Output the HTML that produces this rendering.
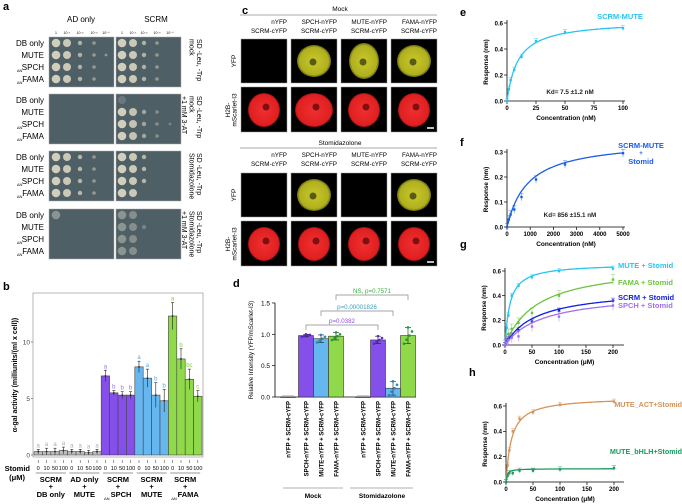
<!DOCTYPE html>
<html><head><meta charset="utf-8"><style>
html,body{margin:0;padding:0;background:#fff;}
svg{display:block;font-family:"Liberation Sans",Arial,sans-serif;}
</style></head><body>
<svg id="fig" width="682" height="504" viewBox="0 0 682 504" xmlns="http://www.w3.org/2000/svg">
<defs>
<radialGradient id="gy"><stop offset="0" stop-color="#c8c828"/><stop offset="0.85" stop-color="#b0b020"/><stop offset="1" stop-color="#6a6a10"/></radialGradient>
<radialGradient id="gr"><stop offset="0" stop-color="#f03030"/><stop offset="0.9" stop-color="#e02020"/><stop offset="1" stop-color="#901010"/></radialGradient>
</defs>
<g id="pa"></g>
<g id="pc"></g>
<g id="pb"></g>
<g id="pd"></g>
<g id="pe"></g>
</svg>
<script>
// ---------- data ----------
const bGroups = ["SCRM+DB only","AD only+MUTE","SCRM+ΔNSPCH","SCRM+MUTE","SCRM+ΔNFAMA"];
const bDoses = ["0","10","50","100"];
const bValues = [0.3,0.3,0.3,0.4, 0.3,0.3,0.2,0.3, 7.0,5.5,5.3,5.3, 7.8,6.8,5.3,4.8, 12.3,8.5,6.7,5.2];
const bErrors = [0.2,0.3,0.3,0.3, 0.2,0.2,0.2,0.2, 0.5,0.2,0.3,0.3, 0.5,0.8,1.1,1.0, 1.2,0.9,0.9,0.5];
const bLetters = ["a","a","a","a","a","a","a","a","a","b","b","b","a","a","b","b","a","b","bc","c"];
const dCats = ["nYFP + SCRM-cYFP","SPCH-nYFP + SCRM-cYFP","MUTE-nYFP + SCRM-cYFP","FAMA-nYFP + SCRM-cYFP","nYFP + SCRM-cYFP","SPCH-nYFP + SCRM-cYFP","MUTE-nYFP + SCRM-cYFP","FAMA-nYFP + SCRM-cYFP"];
const dValues = [0,0.98,0.93,0.97,0,0.91,0.14,0.98];
const dErrors = [0,0.02,0.06,0.06,0,0.06,0.11,0.13];
const eX = [0,1.56,3.13,6.25,12.5,25,50,100];
const eY = [0,0.09,0.16,0.24,0.34,0.46,0.53,0.56];
const fX = [0,78,156,313,625,1250,2500,5000];
const fY = [0,0.03,0.05,0.07,0.12,0.19,0.25,0.295];
const gX = [0,3.1,6.25,12.5,25,50,100,200];
const gMute = [0,0.14,0.24,0.40,0.48,0.55,0.60,0.62];
const gFama = [0,0.05,0.09,0.13,0.18,0.26,0.40,0.53];
const gScrm = [0,0.03,0.05,0.07,0.12,0.19,0.28,0.36];
const gSpch = [0,0.02,0.04,0.06,0.07,0.15,0.23,0.32];
const hAct = [0,0.13,0.25,0.40,0.50,0.55,0.61,0.635];
const hBhlh = [0,0.05,0.07,0.07,0.09,0.09,0.10,0.11];

const NS="http://www.w3.org/2000/svg";
function mk(parent,tag,attrs,txt){const e=document.createElementNS(NS,tag);for(const k in attrs)e.setAttribute(k,attrs[k]);if(txt!==undefined)e.textContent=txt;parent.appendChild(e);return e;}
const A=document.getElementById('pa'),B=document.getElementById('pb'),C=document.getElementById('pc'),D=document.getElementById('pd'),E=document.getElementById('pe');

// ---------- panel letters ----------
[["a",3,10,A],["b",3,290,B],["c",242,14,C],["d",233,287,D],["e",460,16,E],["f",460,146,E],["g",460,248,E],["h",469,376,E]].forEach(p=>{
 const t=mk(p[3],'text',{x:p[1],y:p[2],'font-size':11,'font-weight':'bold'},p[0]);
 
 
});

// ---------- panel a: yeast plates ----------
let t=mk(A,'text',{x:81,y:22,'font-size':8,'text-anchor':'middle'},"AD only");
t=mk(A,'text',{x:156,y:22,'font-size':8,'text-anchor':'middle'},"SCRM");
const dil=["1","10⁻¹","10⁻²","10⁻³","10⁻⁴"];
const colA=[56,67,80,94,106],colS=[122,133,144,157,170];
dil.forEach((d,i)=>{mk(A,'text',{x:colA[i],y:34,'font-size':3.5,'text-anchor':'middle'},d);mk(A,'text',{x:colS[i],y:34,'font-size':3.5,'text-anchor':'middle'},d);});
const plateY=[37,94,151,209];
const rowNames=["DB only","MUTE","SPCH","FAMA"];
const sideLab=[["SD -Leu, -Trp","mock"],["SD -Leu, -Trp","mock","+1 mM 3-AT"],["SD -Leu, -Trp","Stomidazolone"],["SD -Leu, -Trp","Stomidazolone","+1 mM 3-AT"]];
const spots=[[[4,5,4,4],[4,4,4,4]],[[0,0,0,0],[0,4,5,4]],[[4,4,4,4],[3,3,3,2]],[[1,0,0,0],[2,3,2,2]]];
const alpha=[[0.95,0.9,0.7,0.5,0.5],[0.95,0.85,0.6,0.4,0.35],[0.95,0.9,0.75,0.5,0.4],[0.45,0.4,0.3,0.2,0.2]];
plateY.forEach((py,p)=>{
 [49,116].forEach((px,s)=>{
  const r=mk(A,'rect',{x:px,y:py,width:65,height:50,fill:'#4f5f66',stroke:'#aaa','stroke-width':0.5});
  
  const cols=s?colS:colA;
  for(let row=0;row<4;row++){
   const n=spots[p][s][row];
   for(let c=0;c<n;c++){
    mk(A,'circle',{cx:cols[c],cy:py+6+row*12,r:c==0?4.3:(c==1?4:3-c*0.4),fill:'#d8d4c0','fill-opacity':alpha[p][c]});
   }
   if(p==1&&s==1&&row==0) mk(A,'circle',{cx:cols[0],cy:py+6,r:4,fill:'#8a9090','fill-opacity':0.5});
  }
 });
 rowNames.forEach((n,row)=>{
  const y=py+9+row*12;
  mk(A,'text',{x:44,y:y,'font-size':8,'text-anchor':'end'},n);
  if(row>=2) mk(A,'text',{x:44-n.length*5.4,y:y+2,'font-size':4,'text-anchor':'end'},"ΔN");
 });
 const g=mk(A,'g',{transform:`translate(197,${py+2}) rotate(90)`});
 sideLab[p].forEach((s,i)=>mk(g,'text',{x:0,y:i*7.5,'font-size':7},s));
});

// ---------- panel c: microscopy ----------
[["Mock",9,15],["Stomidazolone",143,148]].forEach(([lab,ty,ly],blk)=>{
 mk(C,'text',{x:340,y:ty+2,'font-size':6.5,'text-anchor':'middle'},lab);
 mk(C,'line',{x1:240,x2:437,y1:ly,y2:ly,stroke:'#555','stroke-width':0.6});
 const hdr=[["nYFP","SCRM-cYFP"],["SPCH-nYFP","SCRM-cYFP"],["MUTE-nYFP","SCRM-cYFP"],["FAMA-nYFP","SCRM-cYFP"]];
 const cx=[241,291,341,391];
 const oy=blk?134:0;
 hdr.forEach((h,i)=>{
  mk(C,'text',{x:cx[i]+46,y:ly+9,'font-size':6.3,'text-anchor':'end'},h[0]);
  mk(C,'text',{x:cx[i]+46,y:ly+18,'font-size':6.3,'text-anchor':'end'},h[1]);
  const yfp=mk(C,'rect',{x:cx[i],y:39+oy,width:46,height:44,fill:'#000',stroke:'#999','stroke-width':0.5});
  
  const showY = i>0 && !(blk==1 && i==2);
  if(showY){mk(C,'ellipse',{cx:cx[i]+23,cy:61+oy,rx:i==2?15:17,ry:i==2?18:16,fill:'url(#gy)'});mk(C,'circle',{cx:cx[i]+22,cy:62+oy,r:3.5,fill:'#5a5a14'});}
  const red=mk(C,'rect',{x:cx[i],y:87+oy,width:46,height:45,fill:'#000',stroke:'#999','stroke-width':0.5});
  
  mk(C,'ellipse',{cx:cx[i]+23,cy:110+oy,rx:i==1&&!blk?19:16,ry:17,fill:'url(#gr)'});
  mk(C,'circle',{cx:cx[i]+25,cy:107+oy,r:3.5,fill:'#801010'});
 });
 mk(C,'line',{x1:427,x2:434,y1:128+oy,y2:128+oy,stroke:'#fff','stroke-width':1.5});
 let g=mk(C,'g',{transform:`translate(236,${61+oy}) rotate(-90)`});mk(g,'text',{x:0,y:0,'font-size':6.5,'text-anchor':'middle'},"YFP");
 g=mk(C,'g',{transform:`translate(230,${110+oy}) rotate(-90)`});mk(g,'text',{x:0,y:0,'font-size':6.5,'text-anchor':'middle'},"H2B-");mk(g,'text',{x:0,y:6.5,'font-size':6.5,'text-anchor':'middle'},"mScarlet-I3");
});

// ---------- panel b: bar chart ----------
const bx0=33,bx1=203,by=v=>455-v*11.3;
const bcol=i=>i<8?'#bdbdbd':(i<12?'#8550ea':(i<16?'#66b6f0':'#8fd94a'));
const lcol=i=>i<8?'#aaa':(i<12?'#9a6af0':(i<16?'#5aaae8':'#80cc40'));
mk(B,'rect',{x:bx0,y:293,width:bx1-bx0,height:164,fill:'none',stroke:'#999','stroke-width':0.7});
[0,5,10].forEach(v=>{mk(B,'text',{x:bx0-3,y:by(v)+2.5,'font-size':6.5,'text-anchor':'end',fill:'#444'},v);mk(B,'line',{x1:bx0-2,x2:bx0,y1:by(v),y2:by(v),stroke:'#888'});});
let yt=mk(B,'g',{transform:'translate(17,375) rotate(-90)'});mk(yt,'text',{x:0,y:0,'font-size':7,'font-weight':'bold','text-anchor':'middle'},"α-gal activity (milliunits/(ml x cell))");
const bw=(bx1-bx0-2)/bValues.length;
bValues.forEach((v,i)=>{
 const x=bx0+1+i*bw;
 const r=mk(B,'rect',{x:x,y:by(v),width:bw,height:455-by(v),fill:bcol(i),stroke:'#444','stroke-width':0.6});
 
 const cx=x+bw/2,e=bErrors[i];
 mk(B,'line',{x1:cx,x2:cx,y1:by(v+e),y2:by(Math.max(0,v-e)),stroke:'#222','stroke-width':0.6});
 mk(B,'line',{x1:cx-1.5,x2:cx+1.5,y1:by(v+e),y2:by(v+e),stroke:'#222','stroke-width':0.6});
 mk(B,'circle',{cx:cx,cy:by(v),r:0.9,fill:'#223'});
 mk(B,'text',{x:cx,y:by(v+e)-2,'font-size':6,'text-anchor':'middle',fill:lcol(i)},bLetters[i]);
 mk(B,'line',{x1:cx,x2:cx,y1:460,y2:463,stroke:'#333','stroke-width':0.5});
 mk(B,'text',{x:cx,y:470,'font-size':5.5,'text-anchor':'middle'},bDoses[i%4]);
});
mk(B,'text',{x:30,y:471,'font-size':7.5,'font-weight':'bold','text-anchor':'end'},"Stomid");
mk(B,'text',{x:25,y:480,'font-size':7.5,'font-weight':'bold','text-anchor':'end'},"(μM)");
const gl=[["SCRM","+","DB only"],["AD only","+","MUTE"],["SCRM","+","SPCH"],["SCRM","+","MUTE"],["SCRM","+","FAMA"]];
gl.forEach((g,k)=>{
 const cx=bx0+1+(k*4+2)*bw;
 mk(B,'line',{x1:cx-15,x2:cx+15,y1:473,y2:473,stroke:'#333','stroke-width':0.5});
 mk(B,'text',{x:cx,y:482,'font-size':7.5,'font-weight':'bold','text-anchor':'middle'},g[0]);
 mk(B,'text',{x:cx,y:489,'font-size':7.5,'font-weight':'bold','text-anchor':'middle'},g[1]);
 mk(B,'text',{x:cx+(k==2||k==4?3:0),y:497,'font-size':7.5,'font-weight':'bold','text-anchor':'middle'},g[2]);
 if(k==2||k==4) mk(B,'text',{x:cx-14,y:500,'font-size':4},"ΔN");
});

// ---------- panel d ----------
const dy=v=>397-v*62.7, dxs=[288,306,321,336,363,378,393,408];
const dcol=['#ccc','#8550ea','#66b6f0','#8fd94a'];
mk(D,'line',{x1:275,x2:275,y1:303,y2:397,stroke:'#000','stroke-width':0.8});
mk(D,'line',{x1:275,x2:416,y1:397,y2:397,stroke:'#000','stroke-width':0.8});
[0,0.5,1.0,1.5].forEach(v=>{mk(D,'line',{x1:272,x2:275,y1:dy(v),y2:dy(v),stroke:'#000','stroke-width':0.7});mk(D,'text',{x:270,y:dy(v)+2.5,'font-size':6.5,'text-anchor':'end'},v.toFixed(1));});
yt=mk(D,'g',{transform:'translate(253,350) rotate(-90)'});mk(yt,'text',{x:0,y:0,'font-size':6.2,'text-anchor':'middle'},"Relative Intensity (YFP/mScarlet-I3)");
dValues.forEach((v,i)=>{
 const x=dxs[i];
 const r=mk(D,'rect',{x:x-7.5,y:dy(v),width:15,height:Math.max(0.5,397-dy(v)),fill:dcol[i%4],stroke:'#333','stroke-width':0.6});
 
 const e=dErrors[i];
 if(e>0){mk(D,'line',{x1:x,x2:x,y1:dy(v+e),y2:dy(v-e),stroke:'#222','stroke-width':0.6});mk(D,'line',{x1:x-3,x2:x+3,y1:dy(v+e),y2:dy(v+e),stroke:'#222','stroke-width':0.6});mk(D,'line',{x1:x-3,x2:x+3,y1:dy(v-e),y2:dy(v-e),stroke:'#222','stroke-width':0.6});}
 const pc=i%4==1?'#5a2ab8':(i%4==2?'#2a8aa8':'#1aa030');
 if(v>0)[-4,-1.5,1.5,4,0].forEach((o,j)=>mk(D,'circle',{cx:x+o,cy:dy(v+(j-2)*e*0.5),r:1.3,fill:pc}));
 else mk(D,'line',{x1:x-6,x2:x+6,y1:396,y2:396,stroke:'#bbb','stroke-width':1.5});
 const g=mk(D,'g',{transform:`translate(${x+2.5},401) rotate(-90)`});mk(g,'text',{x:0,y:0,'font-size':6,'text-anchor':'end','font-weight':'bold'},dCats[i]);
});
[[283,343,"Mock",313],[350,413,"Stomidazolone",382]].forEach(a=>{mk(D,'line',{x1:a[0],x2:a[1],y1:488,y2:488,stroke:'#666','stroke-width':0.6});mk(D,'text',{x:a[3],y:498,'font-size':6.5,'font-weight':'bold','text-anchor':'middle'},a[2]);});
[[306,378,325,"p=0.0382",'#8a4ee8'],[321,393,311,"p=0.00001826",'#3aa0c0'],[336,408,295,"NS, p=0.7571",'#3ab040']].forEach(b=>{
 mk(D,'path',{d:`M${b[0]},${b[2]+5}V${b[2]}H${b[1]}V${b[2]+5}`,fill:'none',stroke:'#888','stroke-width':0.7});
 mk(D,'text',{x:(b[0]+b[1])/2,y:b[2]-2,'font-size':6.2,'text-anchor':'middle',fill:b[4]},b[3]);
});

// ---------- curve panels ----------
function curvePanel(o){
 const xs=v=>o.x0+(v/o.xmax)*(o.x1-o.x0), ys=v=>o.y0-(v/o.ymax)*(o.y0-o.y1);
 mk(E,'line',{x1:o.x0,x2:o.x0,y1:o.y1-3,y2:o.y0,stroke:'#000','stroke-width':0.8});
 mk(E,'line',{x1:o.x0,x2:o.xe,y1:o.y0,y2:o.y0,stroke:'#000','stroke-width':0.8});
 o.yt.forEach(v=>{mk(E,'line',{x1:o.x0-3,x2:o.x0,y1:ys(v),y2:ys(v),stroke:'#000','stroke-width':0.7});mk(E,'text',{x:o.x0-4,y:ys(v)+2.3,'font-size':6,'font-weight':'bold','text-anchor':'end'},v.toFixed(1));});
 o.xt.forEach(v=>{mk(E,'line',{x1:xs(v),x2:xs(v),y1:o.y0,y2:o.y0+3,stroke:'#000','stroke-width':0.7});mk(E,'text',{x:xs(v),y:o.y0+9,'font-size':6,'font-weight':'bold','text-anchor':'middle'},v);});
 mk(E,'text',{x:(o.x0+o.xe)/2,y:o.y0+19,'font-size':6.5,'font-weight':'bold','text-anchor':'middle'},o.xl);
 const g=mk(E,'g',{transform:`translate(${o.x0-19},${(o.y0+o.y1)/2}) rotate(-90)`});mk(g,'text',{x:0,y:0,'font-size':6.3,'font-weight':'bold','text-anchor':'middle'},"Response (nm)");
 o.series.forEach(s=>{
  let d='';for(let k=0;k<=80;k++){const xv=o.xmax*k/80;d+=(k?'L':'M')+xs(xv).toFixed(1)+','+ys(s.bm*xv/(s.kd+xv)).toFixed(1);}
  const p=mk(E,'path',{d:d,fill:'none',stroke:s.c,'stroke-width':1.3});
  
  s.ys.forEach((v,k)=>{const x=xs(s.xs[k]),y=ys(v),e=s.e||0.02;
   mk(E,'line',{x1:x,x2:x,y1:ys(v+e),y2:ys(Math.max(0,v-e)),stroke:s.c,'stroke-width':0.6,'stroke-opacity':0.7});
   mk(E,'line',{x1:x-2,x2:x+2,y1:ys(v+e),y2:ys(v+e),stroke:s.c,'stroke-width':0.6,'stroke-opacity':0.7});
   mk(E,'rect',{x:x-1.2,y:y-1.2,width:2.4,height:2.4,fill:s.c});});
 });
 (o.labels||[]).forEach(l=>mk(E,'text',{x:l[0],y:l[1],'font-size':l[4]||7.5,'font-weight':'bold','text-anchor':l[3]||'start',fill:l[2]},l[5]));
}
curvePanel({x0:507,x1:623,xe:625,y0:101,y1:23,xmax:100,ymax:0.6,yt:[0,0.2,0.4,0.6],xt:[0,25,50,75,100],xl:"Concentration (nM)",
 series:[{n:'scrm-mute',c:'#28c4f0',bm:0.62,kd:9.5,xs:eX,ys:eY}],
 labels:[[620,19,'#28c4f0','middle',7.5,"SCRM-MUTE"],[570,94,'#222','middle',6.3,"Kd= 7.5 ±1.2 nM"]]});
curvePanel({x0:507,x1:623,xe:625,y0:227,y1:152,xmax:5000,ymax:0.3,yt:[0,0.1,0.2,0.3],xt:[0,1000,2000,3000,4000,5000],xl:"Concentration (nM)",
 series:[{n:'scrm-mute-stomid',c:'#1a5ee6',bm:0.35,kd:900,xs:fX,ys:fY,e:0.015}],
 labels:[[641,148,'#1a5ee6','middle',7.5,"SCRM-MUTE"],[641,155,'#1a5ee6','middle',6,"+"],[641,164,'#1a5ee6','middle',7.5,"Stomid"],[570,217,'#222','middle',6.3,"Kd= 856 ±15.1 nM"]]});
curvePanel({x0:505,x1:613,xe:624,y0:345,y1:271,xmax:200,ymax:0.6,yt:[0,0.2,0.4,0.6],xt:[0,50,100,150,200],xl:"Concentration (μM)",
 series:[{n:'mute',c:'#28c4f0',bm:0.66,kd:9,xs:gX,ys:gMute},{n:'fama',c:'#6cc43c',bm:0.66,kd:60,xs:gX,ys:gFama,e:0.04},{n:'scrm',c:'#1020e0',bm:0.46,kd:58,xs:gX,ys:gScrm},{n:'spch',c:'#a070f0',bm:0.43,kd:70,xs:gX,ys:gSpch,e:0.04}],
 labels:[[618,268,'#28c4f0','start',7.5,"MUTE + Stomid"],[618,285,'#6cc43c','start',7.5,"FAMA + Stomid"],[618,300,'#1020e0','start',7.5,"SCRM + Stomid"],[618,308,'#a070f0','start',7.5,"SPCH + Stomid"]]});
curvePanel({x0:506,x1:614,xe:624,y0:482,y1:406,xmax:200,ymax:0.6,yt:[0,0.2,0.4,0.6],xt:[0,50,100,150,200],xl:"Concentration (μM)",
 series:[{n:'mute-act',c:'#d4935a',bm:0.67,kd:10,xs:gX,ys:hAct},{n:'mute-bhlh',c:'#1a9a60',bm:0.105,kd:2,xs:gX,ys:hBhlh}],
 labels:[[682,407,'#d4935a','end',7.2,"MUTE_ACT+Stomid"],[682,454,'#1a9a60','end',7.2,"MUTE_bHLH+Stomid"]]});
</script>
</body></html>
